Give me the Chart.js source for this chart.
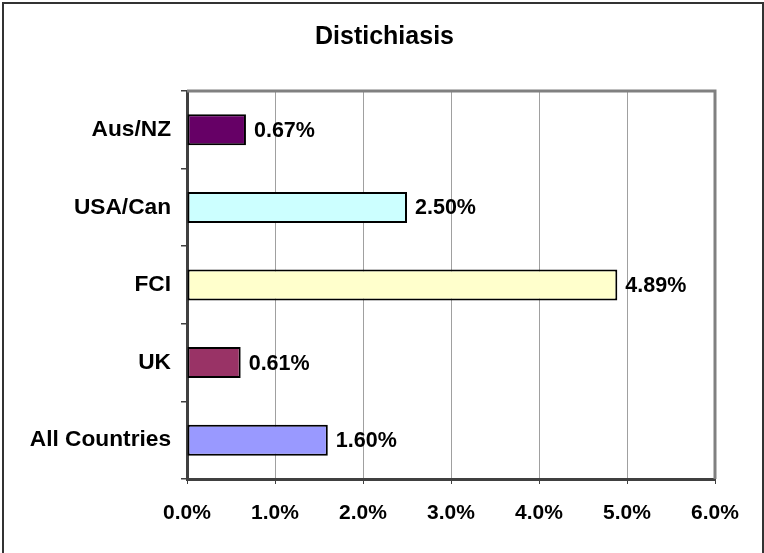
<!DOCTYPE html>
<html lang="en">
<head>
  <meta charset="UTF-8" />
  <title>Distichiasis</title>
  <script src="https://cdn.jsdelivr.net/npm/chart.js@4.4.0/dist/chart.umd.min.js"></script>
  <style>
    * { margin: 0; padding: 0; }
    body { background: #fff; }
    canvas { display: block; }
  </style>
</head>
<body>
<canvas id="chart" width="764" height="553"></canvas>

<script>
// Data
const categories   = ['Aus/NZ', 'USA/Can', 'FCI', 'UK', 'All Countries'];
const values       = [0.67, 2.50, 4.89, 0.61, 1.60];
const barColors    = ['#660066', '#CCFFFF', '#FFFFCC', '#993366', '#9999FF'];
const xTickLabels  = ['0.0%', '1.0%', '2.0%', '3.0%', '4.0%', '5.0%', '6.0%'];

const FONT = "'Liberation Sans', Arial, sans-serif";

// Outer frame (bottom edge runs off the picture) + grey top/right plot border
const framePlugin = {
  id: 'frame',
  afterDraw(chart) {
    const { ctx, chartArea: a } = chart;
    ctx.save();
    ctx.strokeStyle = '#808080';
    ctx.lineWidth = 3;
    ctx.beginPath();
    ctx.moveTo(a.left, a.top);
    ctx.lineTo(a.right, a.top);
    ctx.lineTo(a.right, a.bottom);
    ctx.stroke();
    ctx.strokeStyle = '#333';
    ctx.lineWidth = 2;
    ctx.strokeRect(3, 3, chart.width - 4, chart.height + 10);
    ctx.restore();
  },
};

// Value labels to the right of each bar
const valueLabels = {
  id: 'valueLabels',
  afterDatasetsDraw(chart) {
    const { ctx } = chart;
    const meta = chart.getDatasetMeta(0);
    ctx.save();
    ctx.font = `bold 21.5px ${FONT}`;
    ctx.fillStyle = '#000';
    ctx.textAlign = 'left';
    ctx.textBaseline = 'middle';
    meta.data.forEach((bar, i) => {
      ctx.fillText(values[i].toFixed(2) + '%', bar.x + 8, bar.y + 1);
    });
    ctx.restore();
  },
};

new Chart(document.getElementById('chart'), {
  type: 'bar',
  data: {
    labels: categories,
    datasets: [{
      data: values,
      backgroundColor: barColors,
      borderColor: '#000',
      borderWidth: 2,
      borderSkipped: false,
      categoryPercentage: 1,
      barPercentage: 0.4,
    }],
  },
  options: {
    indexAxis: 'y',
    responsive: false,
    animation: false,
    devicePixelRatio: 1,
    // left/right padding balanced so the title centres on the whole picture
    layout: { padding: { left: 27, right: 22, top: 0, bottom: 0 } },
    plugins: {
      legend: { display: false },
      tooltip: { enabled: false },
      title: {
        display: true,
        text: 'Distichiasis',
        color: '#000',
        font: { family: FONT, size: 25, weight: 'bold', lineHeight: 1.2 },
        padding: { top: 22, bottom: 39 },
      },
    },
    scales: {
      x: {
        min: 0,
        max: 6,
        ticks: {
          stepSize: 1,
          color: '#000',
          padding: 17,
          font: { family: FONT, size: 21, weight: 'bold' },
          callback: (v, i) => xTickLabels[i],
        },
        grid: { color: '#a0a0a0', lineWidth: 1, tickLength: 5, tickColor: '#404040' },
        border: { display: true, color: '#404040', width: 3 },
        afterFit: s => { s.height = 74; },
      },
      y: {
        ticks: {
          color: '#000',
          padding: 10,
          font: { family: FONT, size: 22.7, weight: 'bold' },
        },
        grid: {
          display: true, drawOnChartArea: false, drawTicks: true,
          offset: true, tickLength: 6, color: '#404040', lineWidth: 1.5,
        },
        border: { display: true, color: '#404040', width: 3 },
        afterFit: s => { s.width = 160; },
      },
      // empty spacer on the right, keeps the plot edge at the same place
      spacer: {
        type: 'linear',
        position: 'right',
        display: true,
        ticks: { display: false },
        grid: { display: false, drawTicks: false },
        border: { display: false },
        afterFit: s => { s.width = 27; },
      },
    },
  },
  plugins: [framePlugin, valueLabels],
});
</script>
</body>
</html>
